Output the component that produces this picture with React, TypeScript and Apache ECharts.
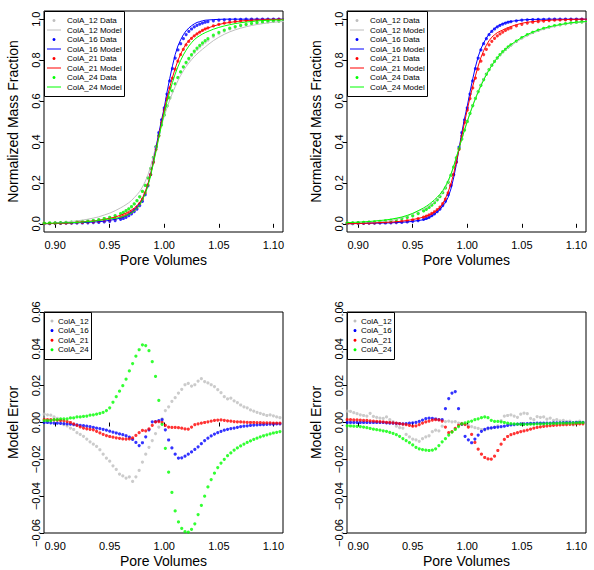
import React, { useEffect, useRef } from "react";
import * as echarts from "echarts";

// Pore-volume sample positions for the breakthrough curves (top panels)
const poreVolumes = [
  0.890, 0.895, 0.900, 0.905, 0.910, 0.915, 0.920, 0.925, 0.930, 0.935, 0.940, 0.945, 0.950, 0.955,
  0.960, 0.9625, 0.965, 0.9675, 0.970, 0.9725, 0.975, 0.9775, 0.980, 0.9825, 0.985, 0.9875, 0.990, 0.9925,
  0.995, 0.9975, 1.000, 1.0025, 1.005, 1.0075, 1.010, 1.0125, 1.015, 1.0175, 1.020, 1.0225, 1.025, 1.0275,
  1.030, 1.0325, 1.035, 1.0375,
  1.040, 1.045, 1.050, 1.055, 1.060, 1.065, 1.070, 1.075, 1.080, 1.085, 1.090, 1.095, 1.100, 1.105, 1.110,
];

// Pore-volume sample positions for the model error panels
const errorPoreVolumes = [
  0.890, 0.893, 0.896, 0.899, 0.902, 0.905, 0.908, 0.911, 0.914, 0.917,
  0.920, 0.923, 0.926, 0.929, 0.932, 0.935, 0.938, 0.941, 0.944, 0.947,
  0.950, 0.953, 0.956, 0.959, 0.962, 0.965, 0.968, 0.971, 0.974, 0.977,
  0.980, 0.983, 0.986, 0.989, 0.992, 0.995, 0.998, 1.001, 1.004, 1.007,
  1.010, 1.013, 1.016, 1.019, 1.022, 1.025, 1.028, 1.031, 1.034, 1.037,
  1.040, 1.043, 1.046, 1.049, 1.052, 1.055, 1.058, 1.061, 1.064, 1.067,
  1.070, 1.073, 1.076, 1.079, 1.082, 1.085, 1.088, 1.091, 1.094, 1.097,
  1.100, 1.103, 1.106, 1.109,
];

// Measured normalized mass fraction
const colA12Data = [
  0.003, 0.004, 0.005, 0.006, 0.007, 0.008, 0.009, 0.011, 0.013, 0.016, 0.020, 0.025, 0.031, 0.039,
  0.049, 0.056, 0.064, 0.073, 0.084, 0.097, 0.113, 0.133, 0.158, 0.188, 0.225, 0.270, 0.322, 0.376, 0.430, 0.482,
  0.530, 0.575, 0.614, 0.650, 0.684, 0.715, 0.743, 0.766, 0.785, 0.804, 0.822, 0.838, 0.852, 0.865, 0.877, 0.888,
  0.898, 0.915, 0.930, 0.942, 0.952, 0.960, 0.967, 0.972, 0.977, 0.981, 0.984, 0.987, 0.989, 0.991, 0.992,
];
const colA16Data = [
  0.001, 0.001, 0.002, 0.002, 0.003, 0.003, 0.004, 0.004, 0.005, 0.006, 0.007, 0.009, 0.012, 0.016,
  0.022, 0.026, 0.032, 0.040, 0.049, 0.060, 0.072, 0.089, 0.110, 0.142, 0.185, 0.240, 0.303, 0.375, 0.445, 0.508,
  0.566, 0.634, 0.698, 0.758, 0.810, 0.850, 0.880, 0.905, 0.925, 0.940, 0.952, 0.962, 0.970, 0.976, 0.981, 0.985,
  0.988, 0.992, 0.995, 0.997, 0.998, 0.999, 0.999, 1.000, 1.000, 1.000, 1.000, 1.000, 1.000, 1.000, 1.000,
];
const colA21Data = [
  0.002, 0.002, 0.003, 0.003, 0.004, 0.005, 0.006, 0.007, 0.008, 0.010, 0.012, 0.015, 0.019, 0.025,
  0.033, 0.038, 0.044, 0.051, 0.059, 0.069, 0.082, 0.099, 0.121, 0.151, 0.190, 0.240, 0.300, 0.364, 0.430, 0.495,
  0.556, 0.612, 0.664, 0.712, 0.756, 0.795, 0.827, 0.853, 0.875, 0.892, 0.906, 0.918, 0.928, 0.937, 0.945, 0.952,
  0.957, 0.967, 0.975, 0.981, 0.985, 0.988, 0.991, 0.993, 0.995, 0.996, 0.997, 0.998, 0.998, 0.999, 0.999,
];
const colA24Data = [
  0.003, 0.004, 0.005, 0.006, 0.007, 0.008, 0.010, 0.012, 0.014, 0.017, 0.021, 0.026, 0.032, 0.040,
  0.050, 0.056, 0.064, 0.073, 0.084, 0.097, 0.113, 0.132, 0.158, 0.188, 0.224, 0.270, 0.325, 0.378, 0.432, 0.484,
  0.532, 0.576, 0.615, 0.650, 0.684, 0.714, 0.742, 0.767, 0.789, 0.809, 0.827, 0.844, 0.859, 0.872, 0.884, 0.895,
  0.905, 0.922, 0.936, 0.947, 0.956, 0.964, 0.970, 0.975, 0.979, 0.983, 0.986, 0.988, 0.990, 0.991, 0.992,
];
// Same columns on the right-hand pore-volume basis
const colA12DataRight = [
  0.005, 0.005, 0.006, 0.007, 0.009, 0.010, 0.012, 0.015, 0.018, 0.021, 0.026, 0.032, 0.040, 0.051,
  0.064, 0.072, 0.081, 0.092, 0.104, 0.118, 0.134, 0.153, 0.176, 0.204, 0.238, 0.278, 0.323, 0.369, 0.414, 0.458,
  0.499, 0.539, 0.577, 0.612, 0.645, 0.676, 0.704, 0.730, 0.753, 0.774, 0.793, 0.810, 0.826, 0.840, 0.853, 0.864,
  0.874, 0.892, 0.909, 0.923, 0.935, 0.945, 0.954, 0.961, 0.967, 0.972, 0.977, 0.981, 0.984, 0.986, 0.988,
];
const colA24DataRight = [
  0.004, 0.005, 0.006, 0.007, 0.008, 0.010, 0.012, 0.014, 0.017, 0.021, 0.025, 0.031, 0.039, 0.050,
  0.063, 0.071, 0.080, 0.091, 0.103, 0.117, 0.133, 0.152, 0.175, 0.203, 0.237, 0.277, 0.322, 0.368, 0.414, 0.458,
  0.500, 0.540, 0.578, 0.613, 0.646, 0.677, 0.705, 0.731, 0.754, 0.775, 0.794, 0.811, 0.827, 0.841, 0.853, 0.865,
  0.875, 0.893, 0.910, 0.924, 0.936, 0.946, 0.955, 0.962, 0.968, 0.973, 0.978, 0.982, 0.985, 0.987, 0.989,
];

// Fitted model, left pair of panels
const colA12ModelLeft = [
  0.000, 0.001, 0.003, 0.006, 0.008, 0.011, 0.0145, 0.018, 0.0225, 0.028, 0.034, 0.043, 0.052, 0.064,
  0.078, 0.0855, 0.094, 0.103, 0.114, 0.128, 0.142, 0.158, 0.180, 0.206, 0.238, 0.280, 0.330, 0.381, 0.433, 0.481,
  0.526, 0.567, 0.605, 0.639, 0.670, 0.699, 0.725, 0.748, 0.768, 0.786, 0.802, 0.817, 0.830, 0.842, 0.853, 0.864,
  0.875, 0.895, 0.912, 0.926, 0.938, 0.948, 0.956, 0.963, 0.969, 0.974, 0.978, 0.982, 0.985, 0.987, 0.989,
];
const colA16ModelLeft = [
  0.001, 0.001, 0.002, 0.003, 0.004, 0.004, 0.005, 0.006, 0.007, 0.009, 0.010, 0.013, 0.017, 0.022,
  0.028, 0.033, 0.039, 0.048, 0.058, 0.070, 0.083, 0.101, 0.121, 0.150, 0.190, 0.242, 0.303, 0.374, 0.444, 0.507,
  0.568, 0.643, 0.710, 0.772, 0.827, 0.869, 0.899, 0.924, 0.943, 0.957, 0.968, 0.977, 0.984, 0.988, 0.992, 0.995,
  0.996, 0.998, 0.999, 1.000, 1.000, 1.000, 1.000, 1.000, 1.000, 1.000, 1.000, 1.000, 1.000, 1.000, 1.000,
];
const colA21ModelLeft = [
  0.001, 0.001, 0.002, 0.002, 0.003, 0.005, 0.008, 0.010, 0.012, 0.014, 0.017, 0.022, 0.027, 0.033,
  0.042, 0.047, 0.053, 0.060, 0.068, 0.077, 0.089, 0.104, 0.125, 0.156, 0.194, 0.243, 0.301, 0.364, 0.430, 0.495,
  0.557, 0.614, 0.667, 0.715, 0.759, 0.798, 0.830, 0.856, 0.879, 0.896, 0.909, 0.919, 0.929, 0.938, 0.945, 0.952,
  0.957, 0.966, 0.974, 0.980, 0.984, 0.988, 0.991, 0.993, 0.995, 0.996, 0.997, 0.998, 0.998, 0.999, 0.999,
];
const colA24ModelLeft = [
  0.002, 0.003, 0.0035, 0.004, 0.005, 0.0055, 0.007, 0.0088, 0.0103, 0.0128, 0.0162, 0.0202, 0.024, 0.027,
  0.032, 0.0354, 0.0405, 0.0457, 0.0533, 0.063, 0.0762, 0.092, 0.1158, 0.146, 0.184, 0.234, 0.294, 0.355, 0.420, 0.483,
  0.5415, 0.5965, 0.646, 0.690, 0.732, 0.767, 0.7985, 0.8255, 0.848, 0.8685, 0.885, 0.8995, 0.9107, 0.9195, 0.9273, 0.9342,
  0.940, 0.951, 0.9597, 0.967, 0.973, 0.9786, 0.9827, 0.9861, 0.9887, 0.9915, 0.9934, 0.9945, 0.9957, 0.996, 0.9966,
];

// Fitted model, right pair of panels
const colA12ModelRight = [
  0.000, 0.000, 0.001, 0.003, 0.005, 0.007, 0.009, 0.012, 0.016, 0.022, 0.029, 0.039, 0.049, 0.061,
  0.072, 0.080, 0.088, 0.097, 0.108, 0.121, 0.137, 0.155, 0.176, 0.203, 0.237, 0.277, 0.323, 0.369, 0.415, 0.459,
  0.501, 0.541, 0.580, 0.615, 0.648, 0.680, 0.708, 0.733, 0.755, 0.776, 0.795, 0.810, 0.824, 0.837, 0.849, 0.860,
  0.870, 0.889, 0.905, 0.919, 0.932, 0.942, 0.951, 0.958, 0.965, 0.971, 0.976, 0.980, 0.983, 0.986, 0.988,
];
const colA16ModelRight = [
  0.001, 0.001, 0.002, 0.002, 0.003, 0.003, 0.004, 0.004, 0.005, 0.006, 0.008, 0.009, 0.012, 0.016,
  0.020, 0.024, 0.030, 0.038, 0.047, 0.058, 0.070, 0.087, 0.103, 0.130, 0.170, 0.224, 0.290, 0.369, 0.446, 0.515,
  0.575, 0.644, 0.708, 0.767, 0.817, 0.855, 0.884, 0.908, 0.928, 0.943, 0.955, 0.964, 0.972, 0.978, 0.983, 0.987,
  0.989, 0.993, 0.996, 0.998, 0.999, 0.999, 1.000, 1.000, 1.000, 1.000, 1.000, 1.000, 1.000, 1.000, 1.000,
];
const colA21ModelRight = [
  0.001, 0.001, 0.002, 0.002, 0.003, 0.004, 0.006, 0.007, 0.008, 0.010, 0.013, 0.016, 0.021, 0.026,
  0.033, 0.038, 0.043, 0.050, 0.058, 0.068, 0.081, 0.099, 0.124, 0.156, 0.195, 0.244, 0.303, 0.365, 0.431, 0.496,
  0.558, 0.617, 0.672, 0.723, 0.771, 0.812, 0.846, 0.873, 0.895, 0.912, 0.924, 0.934, 0.941, 0.947, 0.954, 0.959,
  0.964, 0.973, 0.980, 0.985, 0.988, 0.991, 0.993, 0.995, 0.996, 0.997, 0.998, 0.999, 0.999, 1.000, 1.000,
];
const colA24ModelRight = [
  0.0058, 0.007, 0.0081, 0.0095, 0.0111, 0.0137, 0.0162, 0.0187, 0.0225, 0.0276, 0.0333, 0.0412, 0.0512, 0.064,
  0.0778, 0.086, 0.0952, 0.106, 0.1176, 0.1304, 0.1448, 0.1622, 0.1838, 0.2102, 0.2427, 0.2806, 0.3253, 0.370, 0.4148, 0.4583,
  0.4999, 0.5395, 0.577, 0.6114, 0.644, 0.6745, 0.7021, 0.7282, 0.7518, 0.7739, 0.7934, 0.8104, 0.8265, 0.8408, 0.8531, 0.8654,
  0.8756, 0.8939, 0.911, 0.925, 0.9369, 0.9468, 0.9557, 0.9626, 0.9685, 0.9734, 0.9784, 0.9823, 0.9852, 0.9871, 0.989,
];

// Model error (data minus model), left model
const colA12ErrorLeft = [
  0.0045, 0.0042, 0.004, 0.003, 0.0022, 0.001, -0.0012, -0.0018, -0.003, -0.0038,
  -0.0055, -0.0065, -0.0075, -0.009, -0.0105, -0.0118, -0.013, -0.0148, -0.0172, -0.0194,
  -0.021, -0.0235, -0.0255, -0.028, -0.029, -0.0302, -0.0295, -0.032, -0.0295, -0.026,
  -0.0215, -0.0172, -0.0135, -0.0098, -0.006, -0.0025, 0.002, 0.0065, 0.0085, 0.0115,
  0.0135, 0.016, 0.018, 0.0205, 0.0212, 0.0198, 0.0205, 0.0225, 0.0238, 0.0222,
  0.0215, 0.0205, 0.0195, 0.0178, 0.0162, 0.014, 0.0128, 0.0132, 0.0118, 0.0108,
  0.0095, 0.0085, 0.008, 0.0068, 0.0062, 0.0055, 0.005, 0.0044, 0.0038, 0.0042,
  0.0036, 0.003, 0.0026, 0.0024,
];
const colA16ErrorLeft = [
  0.0, 0.0, -0.0002, -0.0003, -0.0004, -0.0005, -0.0006, -0.0008, -0.0009, -0.0011,
  -0.0013, -0.0015, -0.0017, -0.002, -0.0023, -0.0026, -0.003, -0.0033, -0.0037, -0.0042,
  -0.0047, -0.0052, -0.0057, -0.0062, -0.0066, -0.0072, -0.008, -0.0092, -0.0108, -0.0125,
  -0.011, -0.0078, -0.004, 0.0004, 0.0005, 0.001, 0.0015, -0.004, -0.0095, -0.0138,
  -0.0172, -0.0193, -0.0192, -0.0183, -0.0172, -0.016, -0.0146, -0.0132, -0.0115, -0.0098,
  -0.0085, -0.0073, -0.0063, -0.0055, -0.0048, -0.0042, -0.0037, -0.0033, -0.003, -0.0026,
  -0.0023, -0.002, -0.0018, -0.0016, -0.0014, -0.0013, -0.0012, -0.0011, -0.001, -0.0009,
  -0.0009, -0.0008, -0.0008, -0.0007,
];
const colA21ErrorLeft = [
  0.0015, 0.0015, 0.0015, 0.0014, 0.0013, 0.0012, 0.001, 0.0005, 0.0, -0.0008,
  -0.0016, -0.0024, -0.003, -0.0034, -0.0037, -0.004, -0.0048, -0.0056, -0.0064, -0.0071,
  -0.0076, -0.008, -0.0083, -0.0086, -0.0089, -0.009, -0.0089, -0.0084, -0.007, -0.0055,
  -0.0043, -0.0045, -0.0035, -0.0015, 0.0003, 0.0005, 0.0, -0.0015, -0.0025, -0.0027,
  -0.0027, -0.0028, -0.0031, -0.0035, -0.0036, -0.0025, -0.0012, -0.0007, -0.0003, 0.0,
  0.0004, 0.0008, 0.0011, 0.0013, 0.0014, 0.0012, 0.0009, 0.0007, 0.0005, 0.0004,
  0.0003, 0.0002, 0.0001, 0.0, 0.0, -0.0001, -0.0001, -0.0002, -0.0002, -0.0002,
  -0.0003, -0.0003, -0.0003, -0.0003,
];
const colA24ErrorLeft = [
  0.001, 0.001, 0.001, 0.0015, 0.0015, 0.002, 0.002, 0.002, 0.0025, 0.0025,
  0.003, 0.003, 0.0033, 0.0035, 0.004, 0.0042, 0.0045, 0.005, 0.0055, 0.0065,
  0.008, 0.011, 0.014, 0.017, 0.020, 0.0235, 0.028, 0.032, 0.036, 0.0395,
  0.0422, 0.0418, 0.039, 0.033, 0.025, 0.012, -0.001, -0.014, -0.027, -0.038,
  -0.048, -0.054, -0.0575, -0.0593, -0.0595, -0.058, -0.055, -0.050, -0.045, -0.040,
  -0.035, -0.031, -0.0275, -0.0245, -0.022, -0.020, -0.018, -0.0165, -0.015, -0.0138,
  -0.0127, -0.0117, -0.0108, -0.010, -0.0092, -0.0085, -0.0078, -0.0072, -0.0067, -0.0062,
  -0.0057, -0.0053, -0.0049, -0.0046,
];

// Model error (data minus model), right model
const colA12ErrorRight = [
  0.0062, 0.006, 0.0053, 0.0048, 0.0042, 0.0038, 0.0035, 0.005, 0.0033, 0.0028,
  0.0024, 0.0022, 0.003, 0.0015, 0.0005, -0.002, -0.0028, -0.003, -0.0065, -0.0078,
  -0.009, -0.0094, -0.0102, -0.0088, -0.0078, -0.0072, -0.005, -0.0042, -0.0045, -0.002,
  0.0005, 0.0008, 0.0004, 0.0005, -0.0003, -0.0005, -0.0012, -0.0015, -0.0022, -0.0028,
  -0.0032, -0.0038, -0.0042, -0.0035, -0.003, -0.0025, -0.0018, 0.001, 0.0035, 0.0038,
  0.0042, 0.0035, 0.0028, 0.0045, 0.0051, 0.0048, 0.0022, 0.0015, 0.0032, 0.0028,
  0.003, 0.0018, 0.0024, 0.0012, 0.0016, 0.0009, 0.0012, 0.0006, 0.0008, -0.0013,
  0.0004, 0.0008, 0.0002, 0.0005,
];
const colA16ErrorRight = [
  0.0, 0.0, 0.0, 0.0, 0.0, 0.0, 0.0, 0.0, 0.0, 0.0,
  0.0, 0.0, -0.0002, -0.0003, -0.0004, -0.0005, -0.0006, -0.0007, -0.0006, -0.0004,
  -0.0002, 0.0001, 0.0006, 0.0013, 0.0021, 0.0024, 0.0022, 0.0019, 0.0016, 0.0015,
  0.0075, 0.013, 0.016, 0.0168, 0.0075, -0.001, -0.0075, -0.0094, -0.011, -0.009,
  -0.0068, -0.0048, -0.0037, -0.0031, -0.0029, -0.0027, -0.0025, -0.0023, -0.002, -0.0016,
  -0.0013, -0.0011, -0.0009, -0.0008, -0.0007, -0.0006, -0.0005, -0.0005, -0.0004, -0.0004,
  -0.0003, -0.0003, -0.0003, -0.0002, -0.0002, -0.0002, -0.0001, -0.0001, -0.0001, -0.0001,
  0.0, 0.0, 0.0, 0.0,
];
const colA21ErrorRight = [
  0.0015, 0.0015, 0.0014, 0.0014, 0.0013, 0.0012, 0.0011, 0.0009, 0.0008, 0.0006,
  0.0005, 0.0003, 0.0001, 0.0, -0.0002, -0.0004, -0.0006, -0.0009, -0.0012, -0.0016,
  -0.002, -0.0018, -0.0011, -0.0003, 0.0003, 0.0008, 0.0013, 0.0015, 0.0014, 0.0008,
  -0.0025, -0.0055, -0.005, -0.0032, -0.0015, -0.0008, -0.001, -0.0025, -0.0065, -0.0108,
  -0.0145, -0.0172, -0.019, -0.0198, -0.0199, -0.0183, -0.0152, -0.0118, -0.0092, -0.0076,
  -0.0066, -0.006, -0.0055, -0.005, -0.0046, -0.0041, -0.0036, -0.0031, -0.0027, -0.0024,
  -0.0021, -0.0019, -0.0017, -0.0015, -0.0014, -0.0013, -0.0012, -0.0011, -0.001, -0.0009,
  -0.0008, -0.0008, -0.0007, -0.0007,
];
const colA24ErrorRight = [
  -0.0018, -0.0019, -0.002, -0.0021, -0.0022, -0.0025, -0.0028, -0.0032, -0.0036, -0.0039,
  -0.0042, -0.0045, -0.0048, -0.0053, -0.0059, -0.0066, -0.0075, -0.0087, -0.0098, -0.0109,
  -0.0122, -0.0135, -0.0143, -0.0147, -0.015, -0.0152, -0.015, -0.0143, -0.0125, -0.0105,
  -0.0088, -0.0068, -0.0052, -0.0038, -0.0022, -0.0008, -0.0002, 0.0003, 0.0008, 0.0015,
  0.002, 0.0026, 0.003, 0.0026, 0.0012, 0.0006, 0.0006, 0.0004, 0.0, -0.0004,
  -0.0006, -0.0008, -0.0009, -0.001, -0.001, -0.001, -0.0009, -0.0009, -0.0008, -0.0008,
  -0.0007, -0.0006, -0.0006, -0.0005, -0.0005, -0.0004, -0.0004, -0.0003, -0.0003, -0.0002,
  -0.0002, -0.0001, -0.0001, 0.0,
];

const columns = ["ColA_12", "ColA_16", "ColA_21", "ColA_24"];
const columnColors = ["#BEBEBE", "#0000FF", "#FF0000", "#00FF00"];

const xTicks = [0.9, 0.95, 1.0, 1.05, 1.1];
const fractionTicks = [0, 0.2, 0.4, 0.6, 0.8, 1.0];
const errorTicks = [-0.06, -0.04, -0.02, 0, 0.02, 0.04, 0.06];

const FONT = "'Liberation Sans', Arial, Helvetica, sans-serif";

const panels = [
  { left: 44, top: 11, kind: "fraction" },
  { left: 347, top: 11, kind: "fraction" },
  { left: 44, top: 312, kind: "error" },
  { left: 347, top: 312, kind: "error" },
];
const PANEL_W = 239;
const PANEL_H = 221;

const pairs = (xs: number[], ys: number[]) => xs.map((x, i) => [x, ys[i]]);

const fmtError = (v: number) =>
  (v < -1e-9 ? "\u2212" : "") + Math.abs(v).toFixed(2);

function makeLegend(left: number, top: number, width: number, height: number,
  entries: { label: string; color: string; line: boolean }[],
  symX: number, textX: number, firstY: number, step: number) {
  const children: any[] = [
    {
      type: "rect",
      shape: { x: left + 0.5, y: top + 0.5, width, height },
      style: { fill: "#fff", stroke: "#000", lineWidth: 1 },
    },
  ];
  entries.forEach((e, i) => {
    const cy = top + firstY + i * step;
    if (e.line) {
      children.push({
        type: "line",
        shape: { x1: left + symX - 7, y1: cy, x2: left + symX + 7, y2: cy },
        style: { stroke: e.color, lineWidth: 1 },
      });
    } else {
      children.push({
        type: "circle",
        shape: { cx: left + symX, cy, r: 1.5 },
        style: { fill: e.color },
      });
    }
    children.push({
      type: "text",
      x: left + textX,
      y: cy,
      style: {
        text: e.label,
        fill: "#000",
        font: `8px ${FONT}`,
        align: "left",
        verticalAlign: "middle",
        textAlign: "left",
        textVerticalAlign: "middle",
      },
    });
  });
  return { type: "group", z: 100, children };
}

function buildOption() {
  const grid = panels.map((p) => ({
    left: p.left,
    top: p.top,
    width: PANEL_W,
    height: PANEL_H,
    show: true,
    borderColor: "#000",
    borderWidth: 1,
    backgroundColor: "transparent",
    containLabel: false,
  }));

  const xAxis = panels.map((_, i) => ({
    gridIndex: i,
    type: "value",
    min: 0.8898,
    max: 1.1088,
    axisLine: { show: false },
    splitLine: { show: false },
    axisTick: { show: true, inside: false, length: 4, customValues: xTicks, lineStyle: { color: "#000" } },
    axisLabel: {
      customValues: xTicks,
      formatter: (v: number) => v.toFixed(2),
      fontSize: 11,
      fontFamily: FONT,
      color: "#000",
      margin: 7,
    },
    name: "Pore Volumes",
    nameLocation: "middle",
    nameGap: 21,
    nameTextStyle: { fontSize: 14, fontFamily: FONT, color: "#000" },
  }));

  const yAxis = panels.map((p, i) => {
    const isFraction = p.kind === "fraction";
    const ticks = isFraction ? fractionTicks : errorTicks;
    return {
      gridIndex: i,
      type: "value",
      min: isFraction ? -0.04 : -0.06,
      max: isFraction ? 1.04 : 0.06,
      axisLine: { show: false },
      splitLine: { show: false },
      axisTick: { show: true, inside: false, length: 4, customValues: ticks, lineStyle: { color: "#000" } },
      axisLabel: {
        customValues: ticks,
        rotate: 90,
        formatter: isFraction ? (v: number) => v.toFixed(1) : fmtError,
        fontSize: 11,
        fontFamily: FONT,
        color: "#000",
        margin: 3,
      },
      name: isFraction ? "Normalized Mass Fraction" : "Model Error",
      nameLocation: "middle",
      nameGap: 24,
      nameRotate: 90,
      nameTextStyle: { fontSize: 14, fontFamily: FONT, color: "#000" },
    };
  });

  const dataLeft = [colA12Data, colA16Data, colA21Data, colA24Data];
  const dataRight = [colA12DataRight, colA16Data, colA21Data, colA24DataRight];
  const modelLeft = [colA12ModelLeft, colA16ModelLeft, colA21ModelLeft, colA24ModelLeft];
  const modelRight = [colA12ModelRight, colA16ModelRight, colA21ModelRight, colA24ModelRight];
  const errorLeft = [colA12ErrorLeft, colA16ErrorLeft, colA21ErrorLeft, colA24ErrorLeft];
  const errorRight = [colA12ErrorRight, colA16ErrorRight, colA21ErrorRight, colA24ErrorRight];

  const series: any[] = [];
  const scatter = (name: string, idx: number, data: number[][], color: string) => ({
    name,
    type: "scatter",
    xAxisIndex: idx,
    yAxisIndex: idx,
    data,
    symbol: "circle",
    symbolSize: 3.2,
    itemStyle: { color },
    silent: true,
  });
  const line = (name: string, idx: number, data: number[][], color: string) => ({
    name,
    type: "line",
    xAxisIndex: idx,
    yAxisIndex: idx,
    data,
    showSymbol: false,
    symbol: "none",
    lineStyle: { color, width: 1 },
    itemStyle: { color },
    silent: true,
  });

  [
    { idx: 0, data: dataLeft, model: modelLeft },
    { idx: 1, data: dataRight, model: modelRight },
  ].forEach(({ idx, data, model }) => {
    columns.forEach((c, k) => {
      series.push(scatter(`${c} Data`, idx, pairs(poreVolumes, data[k]), columnColors[k]));
      series.push(line(`${c} Model`, idx, pairs(poreVolumes, model[k]), columnColors[k]));
    });
  });
  [
    { idx: 2, err: errorLeft },
    { idx: 3, err: errorRight },
  ].forEach(({ idx, err }) => {
    columns.forEach((c, k) => {
      series.push(scatter(c, idx, pairs(errorPoreVolumes, err[k]), columnColors[k]));
    });
  });

  const fullEntries = columns.flatMap((c, k) => [
    { label: `${c} Data`, color: columnColors[k], line: false },
    { label: `${c} Model`, color: columnColors[k], line: true },
  ]);
  const shortEntries = columns.map((c, k) => ({ label: c, color: columnColors[k], line: false }));

  const graphic = [
    makeLegend(44, 11, 80, 85, fullEntries, 10, 23, 9.5, 9.5),
    makeLegend(347, 11, 80, 85, fullEntries, 10, 23, 9.5, 9.5),
    makeLegend(44, 312, 47, 47, shortEntries, 8, 14, 9, 9.6),
    makeLegend(347, 312, 47, 47, shortEntries, 8, 14, 9, 9.6),
  ];

  return {
    animation: false,
    backgroundColor: "#fff",
    textStyle: { fontFamily: FONT },
    grid,
    xAxis,
    yAxis,
    series,
    graphic,
  };
}

export default function App() {
  const ref = useRef<HTMLDivElement>(null);
  useEffect(() => {
    const el = ref.current;
    if (!el) return;
    document.body.style.margin = "0";
    const chart = echarts.init(el, null, { renderer: "svg" });
    chart.setOption(buildOption() as any);
    return () => chart.dispose();
  }, []);
  return <div ref={ref} style={{ width: 594, height: 570, background: "#fff" }} />;
}
